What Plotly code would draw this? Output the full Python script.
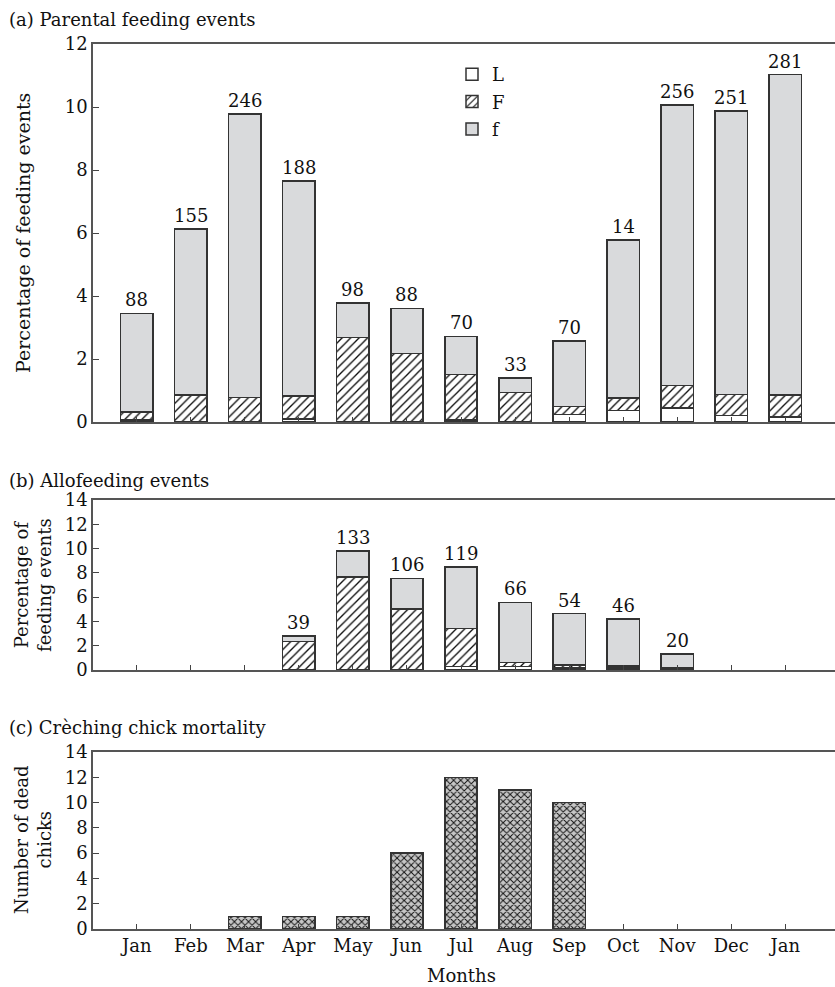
import plotly.graph_objects as go

months = ["Jan", "Feb", "Mar", "Apr", "May", "Jun", "Jul", "Aug", "Sep", "Oct", "Nov", "Dec", "Jan"]
xpos = list(range(len(months)))

# (a) Parental feeding events (% of feeding events), stacked L / F / f
a_L = [0.07, 0.02, 0.02, 0.10, 0.02, 0.02, 0.06, 0.02, 0.24, 0.36, 0.44, 0.20, 0.16]
a_F = [0.24, 0.83, 0.76, 0.72, 2.67, 2.16, 1.45, 0.92, 0.26, 0.40, 0.72, 0.67, 0.69]
a_f = [3.14, 5.28, 9.00, 6.83, 1.09, 1.43, 1.21, 0.45, 2.07, 5.02, 8.90, 9.00, 10.18]
a_n = [88, 155, 246, 188, 98, 88, 70, 33, 70, 14, 256, 251, 281]

# (b) Allofeeding events
b_L = [None, None, None, 0.0, 0.0, 0.0, 0.30, 0.30, 0.15, 0.15, 0.15, None, None]
b_F = [None, None, None, 2.33, 7.66, 5.02, 3.13, 0.30, 0.25, 0.20, 0.05, None, None]
b_f = [None, None, None, 0.47, 2.12, 2.53, 5.05, 4.97, 4.24, 3.85, 1.10, None, None]
b_n = [None, None, None, 39, 133, 106, 119, 66, 54, 46, 20, None, None]

# (c) Creching chick mortality
c_dead = [None, None, 1, 1, 1, 6, 12, 11, 10, None, None, None, None]

EDGE = "#333333"
GRAY = "#d9dadc"
FONT = "DejaVu Serif"
FS = 18
W, H = 835, 987

fig = go.Figure()

def seg(y, name, xa, ya, kind, show):
    if kind == "L":
        marker = dict(color="white", line=dict(color=EDGE, width=1.5))
    elif kind == "F":
        marker = dict(color="white", line=dict(color=EDGE, width=1.5),
                      pattern=dict(shape="/", fgcolor="#0a0a0a", bgcolor="white", size=6,
                                   solidity=0.22, fillmode="replace"))
    else:
        marker = dict(color=GRAY, line=dict(color=EDGE, width=1.5))
    return go.Bar(x=xpos, y=y, name=name, xaxis=xa, yaxis=ya, width=0.6, marker=marker,
                  showlegend=show, legendgroup=name, hoverinfo="skip")

fig.add_trace(seg(a_L, "L", "x", "y", "L", True))
fig.add_trace(seg(a_F, "F", "x", "y", "F", True))
fig.add_trace(seg(a_f, "f", "x", "y", "f", True))
fig.add_trace(seg(b_L, "L", "x2", "y2", "L", False))
fig.add_trace(seg(b_F, "F", "x2", "y2", "F", False))
fig.add_trace(seg(b_f, "f", "x2", "y2", "f", False))
fig.add_trace(go.Bar(x=xpos, y=c_dead, xaxis="x3", yaxis="y3", width=0.6, showlegend=False,
                     hoverinfo="skip",
                     marker=dict(color="#c4c4c4", line=dict(color=EDGE, width=1.5),
                                 pattern=dict(shape="x", fgcolor="#111111", bgcolor="#c6c6c6",
                                              size=5, solidity=0.34, fillmode="replace"))))

ann = []
for i in xpos:
    tot = a_L[i] + a_F[i] + a_f[i]
    ann.append(dict(x=i, y=tot, xref="x", yref="y", text=str(a_n[i]), showarrow=False,
                    yanchor="bottom", yshift=1, font=dict(family=FONT, size=FS, color="#111")))
    if b_n[i] is not None:
        totb = b_L[i] + b_F[i] + b_f[i]
        ann.append(dict(x=i, y=totb, xref="x2", yref="y2", text=str(b_n[i]), showarrow=False,
                        yanchor="bottom", yshift=1, font=dict(family=FONT, size=FS, color="#111")))

def txt(x, y, t, **kw):
    d = dict(x=x / W, y=1 - y / H, xref="paper", yref="paper", text=t, showarrow=False,
             borderpad=0, font=dict(family=FONT, size=FS, color="#111"))
    d.update(kw)
    return d

ann.append(txt(8, 19, "(a) Parental feeding events", xanchor="left", yanchor="middle"))
ann.append(txt(8, 480, "(b) Allofeeding events", xanchor="left", yanchor="middle"))
ann.append(txt(8, 727, "(c) Crèching chick mortality", xanchor="left", yanchor="middle"))
ann.append(txt(23, 233, "Percentage of feeding events", textangle=-90, xanchor="center", yanchor="middle",
               font=dict(family=FONT, size=19, color="#111")))
ann.append(txt(33, 585, "Percentage of<br>feeding events", textangle=-90, xanchor="center", yanchor="middle"))
ann.append(txt(33, 840, "Number of dead<br>chicks", textangle=-90, xanchor="center", yanchor="middle"))
ann.append(txt(462, 975, "Months", xanchor="center", yanchor="middle"))

xd = [93 / W, 1.0]
xr = [-0.81, 12.92]

def xaxis(show_labels, anchor):
    return dict(domain=xd, range=xr, anchor=anchor, tickvals=xpos, ticktext=months,
                showticklabels=show_labels, ticks="inside", ticklen=5, tickcolor="#444",
                showline=True, linecolor="#555", linewidth=1.5, mirror=True,
                showgrid=False, zeroline=False, automargin=False,
                tickfont=dict(family=FONT, size=FS, color="#111"))

def yaxis(dom, rng, anchor):
    return dict(domain=[1 - dom[1] / H, 1 - dom[0] / H], range=rng, anchor=anchor, dtick=2,
                ticks="inside", ticklen=6, tickcolor="#444",
                showline=True, linecolor="#555", linewidth=1.5, mirror=False,
                showgrid=False, zeroline=False, automargin=False,
                tickfont=dict(family=FONT, size=FS, color="#111"))

fig.update_layout(
    template="none",
    width=W, height=H, barmode="stack", bargap=0.4,
    margin=dict(l=0, r=0, t=0, b=0, pad=0, autoexpand=False),
    paper_bgcolor="white", plot_bgcolor="white",
    xaxis=xaxis(False, "y"), yaxis=yaxis((44, 422), [0, 12], "x"),
    xaxis2=xaxis(False, "y2"), yaxis2=yaxis((500, 670), [0, 14], "x2"),
    xaxis3=xaxis(True, "y3"), yaxis3=yaxis((752, 929), [0, 14], "x3"),
    annotations=ann,
    legend=dict(x=452 / W, y=1 - 56 / H, xanchor="left", yanchor="top", traceorder="grouped",
                bgcolor="rgba(0,0,0,0)", font=dict(family=FONT, size=FS, color="#111"),
                itemwidth=30, tracegroupgap=1),
)

js = ("var s='margin:0;padding:0;overflow:hidden;height:987px;width:835px;';"
      "document.documentElement.style.cssText=s;document.body.style.cssText=s;")
fig.write_html("out.html", config={"displayModeBar": False}, post_script=js)
